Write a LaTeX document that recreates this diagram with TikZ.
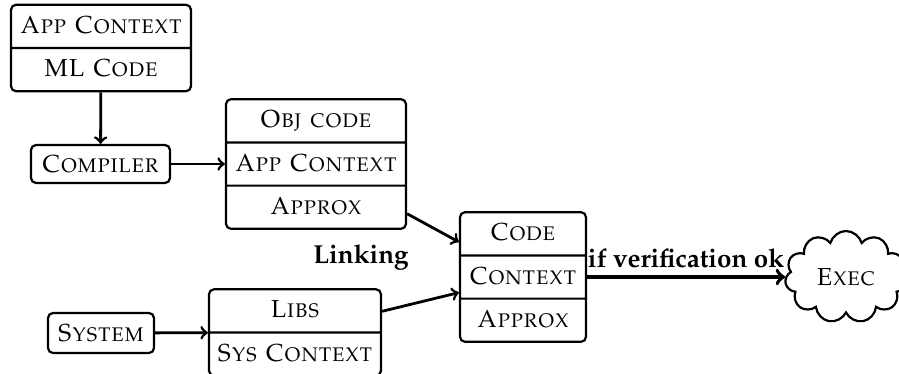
\documentclass[tikz,border=0pt]{standalone}
\usepackage[T1]{fontenc}
\usepackage{mathpazo}
\usetikzlibrary{shapes.multipart,shapes.symbols}
% fixed-height strut so every row of a split box has the same height
\newcommand\rowht{\rule[-4.75pt]{0pt}{16.5pt}}
\begin{document}
\begin{tikzpicture}[x=0.5pt,y=-0.5pt,
  font=\fontsize{12.3}{14.4}\selectfont,
  box/.style={draw, line width=1.1pt, rounded corners=2.5pt, align=center,
    inner xsep=0pt, inner ysep=2pt},
  splitbox/.style={box, rectangle split, rectangle split parts=#1},
  single/.style={box, minimum width=#1},
  link/.style={->, line width=1.4pt},
  bold/.style={font=\fontsize{13}{15}\selectfont\bfseries}]
\useasboundingbox (0,0) rectangle (899,374);

% input program and its context
\node[splitbox=2, text width=90pt] (appml) at (101,48)
  {\rowht\textsc{App Context}\nodepart{two}\rowht\textsc{ML Code}};
\node[single=69.5pt, minimum height=19pt] (compiler) at (100.5,164) {\textsc{Compiler}};

% compiled object
\node[splitbox=3, text width=90pt] (obj) at (316,164)
  {\rowht\textsc{Obj code}\nodepart{two}\rowht\textsc{App Context}\nodepart{three}\rowht\textsc{Approx}};

% system side
\node[single=53pt, minimum height=20pt] (system) at (101,333) {\textsc{System}};
\node[splitbox=2, text width=86pt] (libs) at (295,332.5)
  {\rowht\textsc{Libs}\nodepart{two}\rowht\textsc{Sys Context}};

% linked result
\node[splitbox=3, text width=63pt] (code) at (523,277)
  {\rowht\textsc{Code}\nodepart{two}\rowht\textsc{Context}\nodepart{three}\rowht\textsc{Approx}};
\node[bold] (linking) at (361,257) {Linking};

\node[cloud, draw, line width=1.1pt, cloud puffs=11, cloud ignores aspect,
  minimum width=61pt, minimum height=46pt, inner sep=0pt] (exec) at (846,277) {\textsc{Exec}};

\draw[link] (appml) -- (compiler);
\draw[link] (compiler) -- (obj);
\draw[link] (system) -- (libs);
\draw[link] (obj) -- (code);
\draw[link] (libs) -- (code);
\draw[->, line width=1.9pt] (code) -- node[above, bold, inner sep=3.5pt] {if verification ok} (exec);
\end{tikzpicture}
\end{document}
